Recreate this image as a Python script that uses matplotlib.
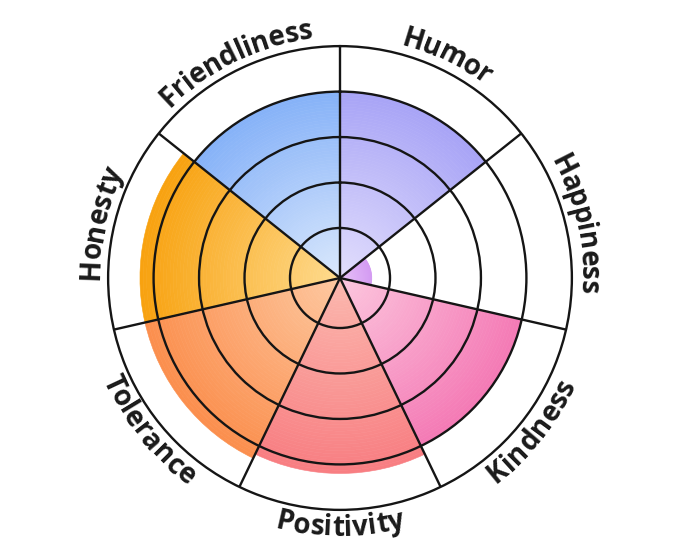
import numpy as np
import matplotlib.pyplot as plt
from matplotlib.colors import to_rgb

categories = ['Humor', 'Happiness', 'Kindness', 'Positivity', 'Tolerance', 'Honesty', 'Friendliness']
values = [4.0, 0.6, 4.0, 4.2, 4.3, 4.3, 4.0]
inner_colors = ['#e2defc', '#e8c2f8', '#fcc6de', '#fbb8ae', '#fdc8a0', '#fedb8e', '#dae8fc']
outer_colors = ['#a8a4f6', '#d49cf2', '#f47ab5', '#f87e82', '#fb8f4e', '#f8a210', '#86b2f8']
ring_levels = [1, 2, 3, 4]
r_min, r_max = -0.1, 5

fig = plt.figure(figsize=(6.8, 5.57), dpi=100)
ax = fig.add_axes([0.159, 0.0844, 0.682, 0.833], projection='polar')
ax.set_theta_zero_location('N')
ax.set_theta_direction(-1)

n = len(categories)
width = 2 * np.pi / n
centers = (np.arange(n) + 0.5) * width

# radial gradient: stack thin bars from light to saturated
steps = 60
for c, v, ci, co in zip(centers, values, inner_colors, outer_colors):
    edges = np.linspace(r_min, v, steps + 1)
    s = np.linspace(0, 1, steps)[:, None]
    cols = (1 - s) * np.array(to_rgb(ci)) + s * np.array(to_rgb(co))
    ax.bar(np.full(steps, c), np.diff(edges), bottom=edges[:-1], width=width,
           color=cols, edgecolor=cols, linewidth=0.4, zorder=1)

ax.set_ylim(r_min, r_max)
ax.set_xticks(np.arange(n) * width)
ax.set_xticklabels([])
ax.set_yticks(ring_levels)
ax.set_yticklabels([])
ax.set_axisbelow(False)
ax.grid(True, color='#151515', linewidth=1.7)
ax.spines['polar'].set_color('#151515')
ax.spines['polar'].set_linewidth(1.7)

# curved labels, one character at a time
fig.canvas.draw()
renderer = fig.canvas.get_renderer()
px_per_unit = ax.get_window_extent(renderer).width / 2 / (r_max - r_min)
props = dict(fontsize=20, fontweight='bold', family='Open Sans', color='#1a1a1a')


def curved_label(text, theta_c):
    top = np.cos(theta_c) > 0
    widths = [0.0]
    for i in range(1, len(text) + 1):
        t = fig.text(0, 0, text[:i], **props)
        widths.append(t.get_window_extent(renderer).width)
        t.remove()
    total = widths[-1]
    r_mid = 250
    r_base = 241 if top else 258
    r = r_base / px_per_unit + r_min
    for i, ch in enumerate(text):
        pos = (widths[i] + widths[i + 1]) / 2 - total / 2
        d = pos / r_mid
        if top:
            th = theta_c + d
            rot = -np.degrees(th)
        else:
            th = theta_c - d
            rot = 180 - np.degrees(th)
        ax.text(th, r, ch, rotation=rot, rotation_mode='anchor',
                ha='center', va='baseline', **props)


for name, c in zip(categories, centers):
    curved_label(name, c)

fig.savefig('out.png', dpi=100)
